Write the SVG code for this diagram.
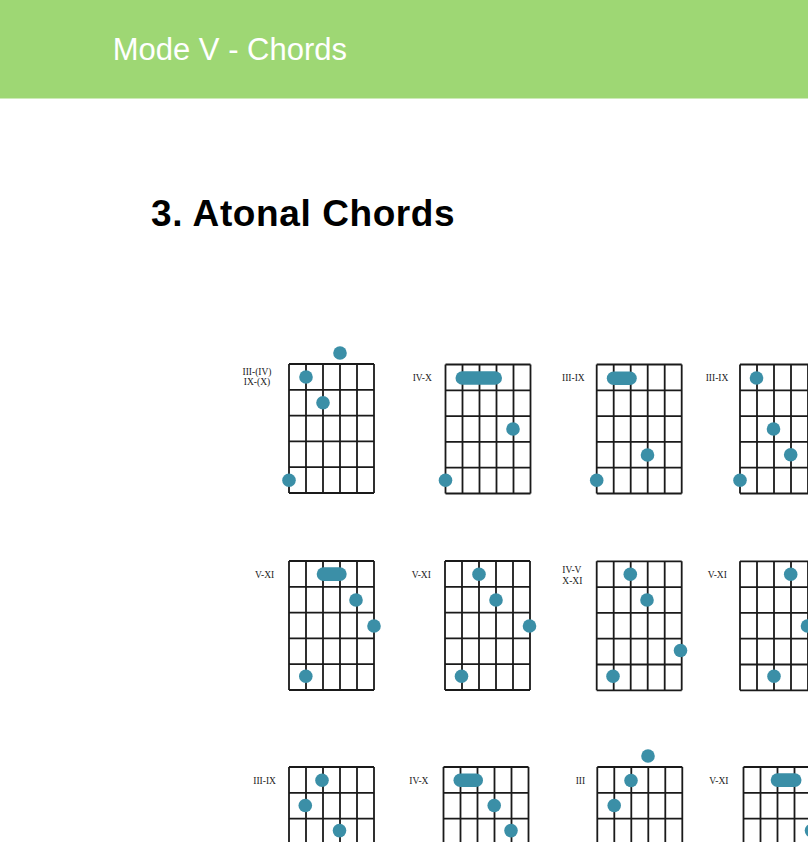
<svg xmlns="http://www.w3.org/2000/svg" xmlns:xlink="http://www.w3.org/1999/xlink" width="808" height="842" viewBox="0 0 808 842">
<style>
.hdr{font-family:"Liberation Sans",Arial,sans-serif;font-size:31px;fill:#ffffff}
.ttl{font-family:"Liberation Sans",Arial,sans-serif;font-size:37px;font-weight:bold;letter-spacing:0.6px;fill:#000000}
.lbl{font-family:"Liberation Serif","Times New Roman",serif;font-size:9.5px;fill:#222222}
.dot{fill:#3b8fa7}
.grid{fill:none;stroke:#1a1a1a;stroke-width:1.8}
</style>
<defs>
<path id="grid" class="grid" d="M0,0V129M17,0V129M34,0V129M51,0V129M68,0V129M85,0V129M0,0H85M0,25.8H85M0,51.6H85M0,77.4H85M0,103.2H85M0,129H85"/>
</defs>
<rect width="808" height="842" fill="#ffffff"/>
<g id="header">
<rect x="0" y="0" width="808" height="98.5" fill="#9ed774"/>
<text class="hdr" x="112.7" y="60">Mode V - Chords</text>
</g>
<g id="title">
<text class="ttl" x="151" y="225.7">3. Atonal Chords</text>
</g>

<g id="chord-r1c1">
<use xlink:href="#grid" href="#grid" x="289" y="364"/>
<text class="lbl" x="257" y="374.5" text-anchor="middle">III-(IV)</text>
<text class="lbl" x="257" y="385" text-anchor="middle">IX-(X)</text>
<circle class="dot" cx="340" cy="353" r="6.8"/>
<circle class="dot" cx="306" cy="377" r="6.8"/>
<circle class="dot" cx="323" cy="402.7" r="6.8"/>
<circle class="dot" cx="289" cy="480.2" r="6.8"/>
</g>
<g id="chord-r1c2">
<use xlink:href="#grid" href="#grid" x="445.5" y="364.5"/>
<text class="lbl" x="412.7" y="381">IV-X</text>
<rect class="dot" x="455.5" y="371.2" width="46.5" height="13.6" rx="6.8"/>
<circle class="dot" cx="513" cy="429" r="6.8"/>
<circle class="dot" cx="445.5" cy="480.2" r="6.8"/>
</g>
<g id="chord-r1c3">
<use xlink:href="#grid" href="#grid" x="596.7" y="364.5"/>
<text class="lbl" x="562" y="381">III-IX</text>
<rect class="dot" x="606.8" y="371.5" width="30" height="13.6" rx="6.8"/>
<circle class="dot" cx="647.5" cy="455" r="6.8"/>
<circle class="dot" cx="596.7" cy="480.2" r="6.8"/>
</g>
<g id="chord-r1c4">
<use xlink:href="#grid" href="#grid" x="740" y="364.5"/>
<text class="lbl" x="705.7" y="381">III-IX</text>
<circle class="dot" cx="756.5" cy="378" r="6.8"/>
<circle class="dot" cx="773.5" cy="429" r="6.8"/>
<circle class="dot" cx="790.7" cy="454.8" r="6.8"/>
<circle class="dot" cx="740" cy="480.2" r="6.8"/>
</g>

<g id="chord-r2c1">
<use xlink:href="#grid" href="#grid" x="289" y="561"/>
<text class="lbl" x="255" y="578">V-XI</text>
<rect class="dot" x="316.7" y="567.3" width="30" height="13.6" rx="6.8"/>
<circle class="dot" cx="356" cy="600" r="6.8"/>
<circle class="dot" cx="374" cy="626" r="6.8"/>
<circle class="dot" cx="305.8" cy="676.2" r="6.8"/>
</g>
<g id="chord-r2c2">
<use xlink:href="#grid" href="#grid" x="445" y="561"/>
<text class="lbl" x="411.7" y="578">V-XI</text>
<circle class="dot" cx="479" cy="574.2" r="6.8"/>
<circle class="dot" cx="496" cy="600" r="6.8"/>
<circle class="dot" cx="529.5" cy="626" r="6.8"/>
<circle class="dot" cx="461.5" cy="676.2" r="6.8"/>
</g>
<g id="chord-r2c3">
<use xlink:href="#grid" href="#grid" x="596.7" y="561.3"/>
<text class="lbl" x="562.3" y="572.5">IV-V</text>
<text class="lbl" x="562.3" y="583.5">X-XI</text>
<circle class="dot" cx="630.3" cy="574.3" r="6.8"/>
<circle class="dot" cx="647" cy="600" r="6.8"/>
<circle class="dot" cx="680.5" cy="650.5" r="6.8"/>
<circle class="dot" cx="613" cy="676.3" r="6.8"/>
</g>
<g id="chord-r2c4">
<use xlink:href="#grid" href="#grid" x="740" y="561.3"/>
<text class="lbl" x="707.7" y="578">V-XI</text>
<circle class="dot" cx="790.7" cy="574.3" r="6.8"/>
<circle class="dot" cx="807.5" cy="626" r="6.8"/>
<circle class="dot" cx="774" cy="676.3" r="6.8"/>
</g>

<g id="chord-r3c1">
<use xlink:href="#grid" href="#grid" x="289" y="767"/>
<text class="lbl" x="253.3" y="784">III-IX</text>
<circle class="dot" cx="322" cy="780.2" r="6.8"/>
<circle class="dot" cx="305.3" cy="805.5" r="6.8"/>
<circle class="dot" cx="339.5" cy="830.6" r="6.8"/>
</g>
<g id="chord-r3c2">
<use xlink:href="#grid" href="#grid" x="443.5" y="767"/>
<text class="lbl" x="409.3" y="784">IV-X</text>
<rect class="dot" x="453.5" y="773.4" width="29.5" height="13.6" rx="6.8"/>
<circle class="dot" cx="494.2" cy="805.5" r="6.8"/>
<circle class="dot" cx="511" cy="830.6" r="6.8"/>
</g>
<g id="chord-r3c3">
<use xlink:href="#grid" href="#grid" x="597.3" y="767"/>
<text class="lbl" x="575.7" y="784">III</text>
<circle class="dot" cx="648" cy="756" r="6.8"/>
<circle class="dot" cx="631" cy="780.5" r="6.8"/>
<circle class="dot" cx="614.2" cy="805.5" r="6.8"/>
</g>
<g id="chord-r3c4">
<use xlink:href="#grid" href="#grid" x="743.5" y="767"/>
<text class="lbl" x="709.3" y="784">V-XI</text>
<rect class="dot" x="770.7" y="773.3" width="30.8" height="13.6" rx="6.8"/>
<circle class="dot" cx="811.5" cy="830.6" r="6.8"/>
</g>
</svg>
